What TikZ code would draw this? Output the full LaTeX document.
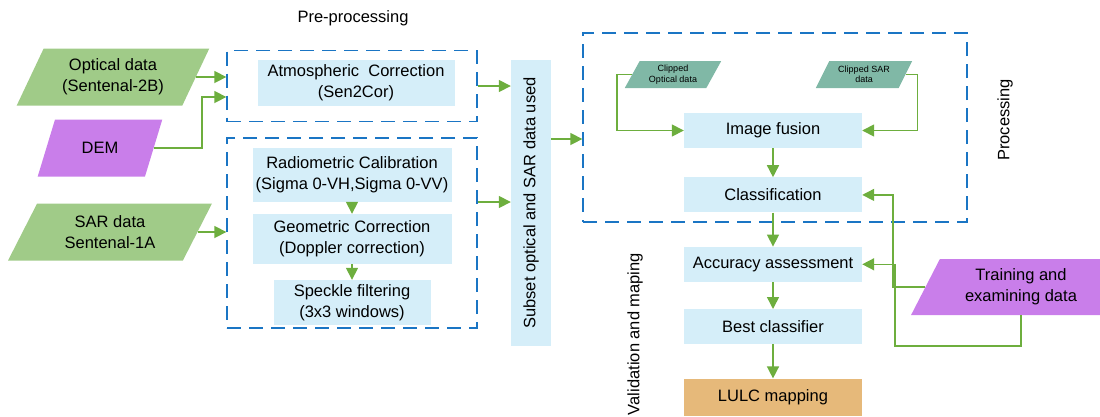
\documentclass[tikz,border=0pt]{standalone}
\usepackage{fontspec}
\setmainfont{Liberation Sans}
\usepackage{tikz}
\usetikzlibrary{arrows.meta,positioning,shapes.geometric}

\definecolor{dashblue}{HTML}{1A75C4}
\definecolor{stepblue}{HTML}{D5EEF9}
\definecolor{inputgreen}{HTML}{A0CB88}
\definecolor{inputpurple}{HTML}{C97EEA}
\definecolor{clipteal}{HTML}{80B8A6}
\definecolor{mapbrown}{HTML}{E6B97A}
\definecolor{arrowgreen}{HTML}{6DAE3E}

\begin{document}
\begin{tikzpicture}[
  x=1pt, y=-1pt,
  font=\fontsize{16.5}{21}\selectfont,
  node distance=29pt,
  stepbox/.style={fill=stepblue, align=center, inner sep=2pt, minimum width=178pt, minimum height=35pt},
  inbox/.style={trapezium, trapezium stretches=true, trapezium left angle=63, trapezium right angle=117,
    align=center, inner sep=2pt, minimum height=57pt},
  optin/.style={inbox, fill=inputgreen},
  extrain/.style={inbox, fill=inputpurple},
  clipbox/.style={inbox, fill=clipteal, minimum height=27pt, minimum width=97pt,
    font=\fontsize{9}{10.5}\selectfont},
  group/.style={draw=dashblue, line width=1.3pt, dash pattern=on 14pt off 8pt, minimum width=250pt},
  arrow/.style={-{Triangle[length=12pt,width=12pt]}, line width=1.5pt, draw=arrowgreen}
]
\useasboundingbox (0,0) rectangle (1100,416);

% inputs
\node[optin, minimum width=193pt] (optical) at (113,77) {Optical data\\(Sentenal-2B)};
\node[extrain, minimum width=125pt] (dem) at (100,148) {DEM};
\node[optin, minimum width=204pt] (sar) at (110,232) {SAR data\\Sentenal-1A};

% pre-processing
\node (pretitle) at (353,18) {Pre-processing};
\node[group, minimum height=71pt] (pregroup1) at (352,86) {};
\node[group, minimum height=190pt] (pregroup2) at (352,233) {};
\node[stepbox, minimum width=197pt, minimum height=46pt] (atmo) at (356,83) {Atmospheric~ Correction\\(Sen2Cor)};
\node[stepbox, minimum width=199pt, minimum height=54pt] (radio) at (352,175) {Radiometric Calibration\\(Sigma 0-VH,Sigma 0-VV)};
\node[stepbox, minimum width=199pt, minimum height=50pt] (geo) at (352,239) {Geometric Correction\\(Doppler correction)};
\node[stepbox, minimum width=157pt, minimum height=45pt] (speckle) at (352,302.5) {Speckle filtering\\(3x3 windows)};

\node[stepbox, rotate=90, minimum width=286pt, minimum height=40pt] (subset) at (531,203) {Subset optical and SAR data used};

% processing
\node[group, minimum width=384pt, minimum height=189pt] (procgroup) at (775,127.5) {};
\node[rotate=90] (proctitle) at (1005,120) {Processing};
\node[clipbox] (clipopt) at (673,74.5) {Clipped\\Optical data};
\node[clipbox] (clipsar) at (864,74.5) {Clipped SAR\\data};
\node[stepbox] (fusion) at (773,130.5) {Image fusion};
\node[stepbox, below=of fusion] (classif) {Classification};

% validation and mapping
\node[rotate=90] (valtitle) at (635,334) {Validation and maping};
\node[stepbox, below=34pt of classif] (accuracy) {Accuracy assessment};
\node[stepbox, below=27pt of accuracy] (best) {Best classifier};
\node[stepbox, fill=mapbrown, minimum height=37pt, below=34pt of best] (lulc) {LULC mapping};
\node[extrain, minimum width=220pt, minimum height=56pt] (training) at (1021,287) {Training and\\examining data};

\draw[arrow] (optical.east) -- (optical.east -| pregroup1.west);
\draw[arrow] (dem.east) -| (202,97) -- (pregroup1.west |- 0,97);
\draw[arrow] (sar.east) -- (sar.east -| pregroup2.west);
\draw[arrow] (radio) -- (geo);
\draw[arrow] (geo) -- (speckle);
\draw[arrow] (pregroup1.east) -- (pregroup1.east -| subset.north);
\draw[arrow] ([yshift=31pt]pregroup2.east) -- ([yshift=31pt]pregroup2.east -| subset.north);
\draw[arrow] ([yshift=64pt]subset.south) -- ([yshift=64pt]subset.south -| procgroup.west);
\draw[arrow] (clipopt.west) -- ++(-15,0) |- (fusion.west);
\draw[arrow] (clipsar.east) -- ++(12,0) |- (fusion.east);
\draw[arrow] (fusion) -- (classif);
\draw[arrow] (classif) -- (accuracy);
\draw[arrow] (accuracy) -- (best);
\draw[arrow] (best) -- (lulc);
\draw[arrow] (training.west) -| ([xshift=31pt]classif.east) -- (classif.east);
\draw[arrow] (training.south) -- ++(0,31) -| ([xshift=33pt]accuracy.east) -- (accuracy.east);
\end{tikzpicture}
\end{document}
